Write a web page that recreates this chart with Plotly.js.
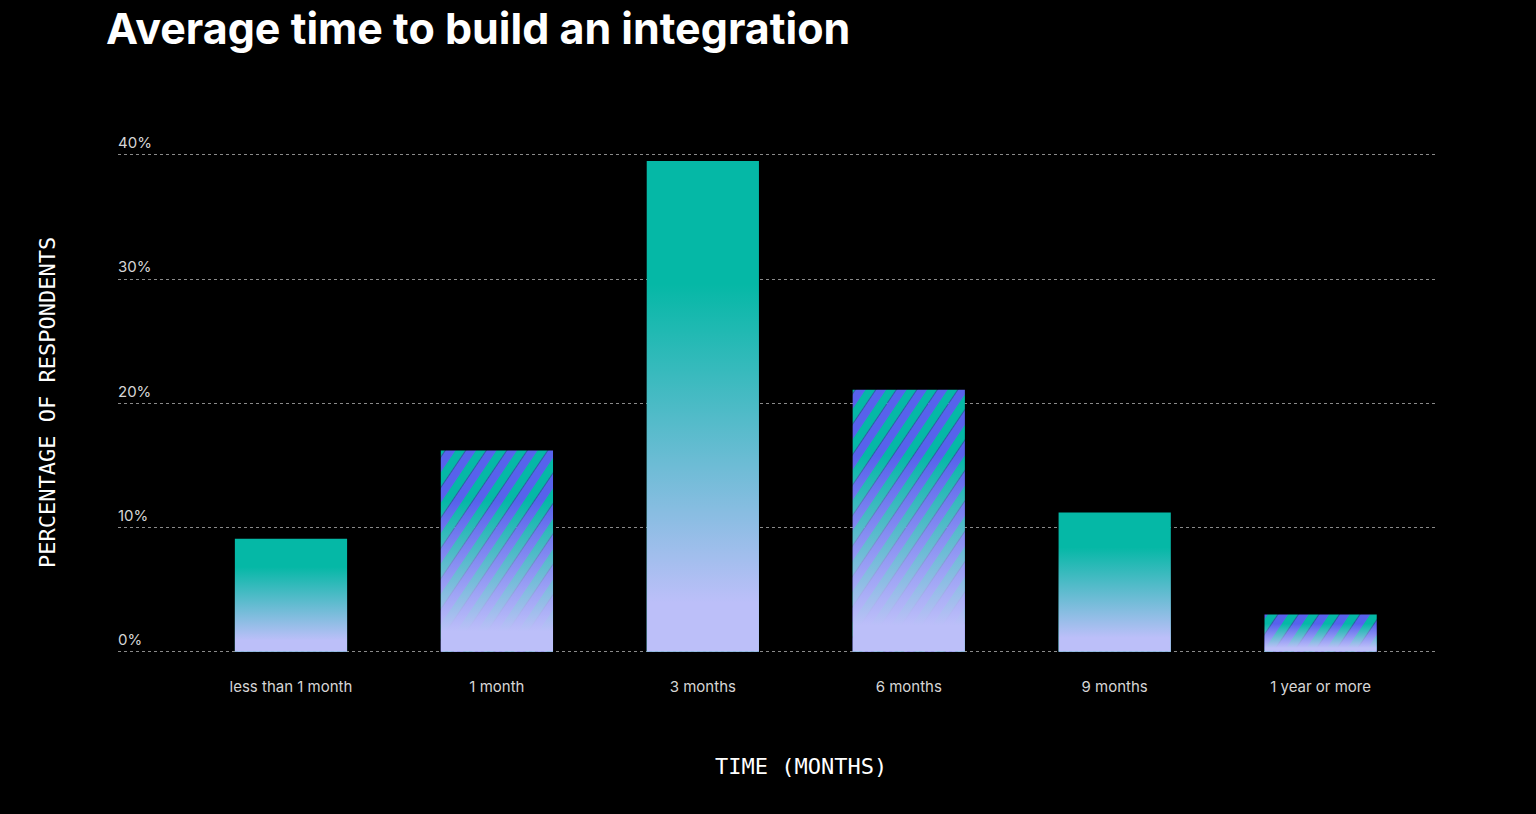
<!DOCTYPE html>
<html>
<head>
<meta charset="utf-8">
<script src="https://cdn.plot.ly/plotly-3.0.1.min.js"></script>
<style>
  html, body { margin: 0; padding: 0; background: #000; }
  #chart { width: 1536px; height: 814px; }
</style>
</head>
<body>
<div id="chart"></div>
<script>
// survey data
const categories = ['less than 1 month', '1 month', '3 months', '6 months', '9 months', '1 year or more'];
const percentages = [9.1, 16.2, 39.5, 21.1, 11.2, 3.0];
const striped = [false, true, false, true, false, true];
const yTicks = [0, 10, 20, 30, 40];
const yTickLabels = ['0%', '10%', '20%', '30%', '40%'];

const teal = '#05b8a6';
const blue = '#5762ec';
const lavender = '#bcbff9';

const baseBars = {
  type: 'bar',
  x: categories,
  y: percentages,
  marker: {color: teal, line: {width: 0}},
  hoverinfo: 'skip'
};

// second copy of the bars, filled later with the fade gradient
const fadeBars = {
  type: 'bar',
  x: categories,
  y: percentages,
  marker: {color: lavender, line: {width: 0}},
  hoverinfo: 'skip'
};

const layout = {
  width: 1536,
  height: 814,
  paper_bgcolor: '#000',
  plot_bgcolor: '#000',
  margin: {l: 118, r: 98, t: 130, b: 161},
  showlegend: false,
  barmode: 'overlay',
  bargap: 0.455,
  font: {family: 'Inter, sans-serif', color: '#d6d6d6'},
  title: {
    text: '<b>Average time to build an integration</b>',
    font: {family: 'Inter, sans-serif', size: 43, color: '#fff'},
    xref: 'container', x: 106 / 1536, xanchor: 'left',
    yref: 'container', y: 1 - 29 / 814, yanchor: 'middle'
  },
  xaxis: {
    type: 'category',
    range: [-0.84, 5.57],
    showgrid: false,
    zeroline: false,
    showline: false,
    ticks: '',
    ticklabelstandoff: 23,
    tickfont: {size: 15, color: '#d6d6d6'}
  },
  yaxis: {
    range: [-0.1, 42],
    tickvals: yTicks,
    ticktext: yTickLabels,
    showgrid: true,
    gridcolor: '#8a8a8a',
    gridwidth: 1,
    griddash: '3px,3px',
    zeroline: false,
    showline: false,
    ticks: '',
    ticklabelposition: 'inside',
    ticklabelshift: -12,
    ticklabelstandoff: -3,
    tickfont: {size: 15, color: '#d6d6d6'}
  },
  annotations: [
    {
      text: 'PERCENTAGE OF RESPONDENTS',
      xref: 'paper', yref: 'paper',
      x: (47 - 118) / 1320, y: (652 - 402) / 523,
      xanchor: 'center', yanchor: 'middle',
      textangle: -90, showarrow: false,
      font: {family: 'DejaVu Sans Mono, monospace', size: 22, color: '#fff'}
    },
    {
      text: 'TIME (MONTHS)',
      xref: 'paper', yref: 'paper',
      x: (801 - 118) / 1320, y: (652 - 765) / 523,
      xanchor: 'center', yanchor: 'middle',
      showarrow: false,
      font: {family: 'DejaVu Sans Mono, monospace', size: 22, color: '#fff'}
    }
  ]
};

const NS = 'http://www.w3.org/2000/svg';

function el(tag, attrs) {
  const node = document.createElementNS(NS, tag);
  for (const k in attrs) node.setAttribute(k, attrs[k]);
  return node;
}

function addDefs(svg) {
  let defs = svg.querySelector('defs');
  if (!defs) { defs = el('defs', {}); svg.insertBefore(defs, svg.firstChild); }

  // diagonal teal / blue stripes
  const pat = el('pattern', {
    id: 'barStripes', patternUnits: 'userSpaceOnUse',
    width: 17, height: 17, patternTransform: 'rotate(34)'
  });
  pat.appendChild(el('rect', {x: 0, y: 0, width: 8.5, height: 17, fill: teal}));
  pat.appendChild(el('rect', {x: 8.5, y: 0, width: 8.5, height: 17, fill: blue}));
  defs.appendChild(pat);

  // lavender glow rising from the bottom of each bar
  const grad = el('linearGradient', {id: 'barFade', x1: 0, y1: 0, x2: 0, y2: 1});
  [[0, 0], [0.25, 0], [0.9, 1], [1, 1]].forEach(([o, a]) => {
    grad.appendChild(el('stop', {offset: o, 'stop-color': lavender, 'stop-opacity': a}));
  });
  defs.appendChild(grad);
}

Plotly.newPlot('chart', [baseBars, fadeBars], layout, {staticPlot: true}).then(gd => {
  addDefs(gd.querySelector('svg.main-svg'));
  const traces = gd.querySelectorAll('.barlayer .trace');
  traces[0].querySelectorAll('path').forEach((p, i) => {
    if (striped[i]) p.style.fill = 'url(#barStripes)';
  });
  traces[1].querySelectorAll('path').forEach(p => {
    p.style.fill = 'url(#barFade)';
    p.style.fillOpacity = 1;
  });
});
</script>
</body>
</html>
